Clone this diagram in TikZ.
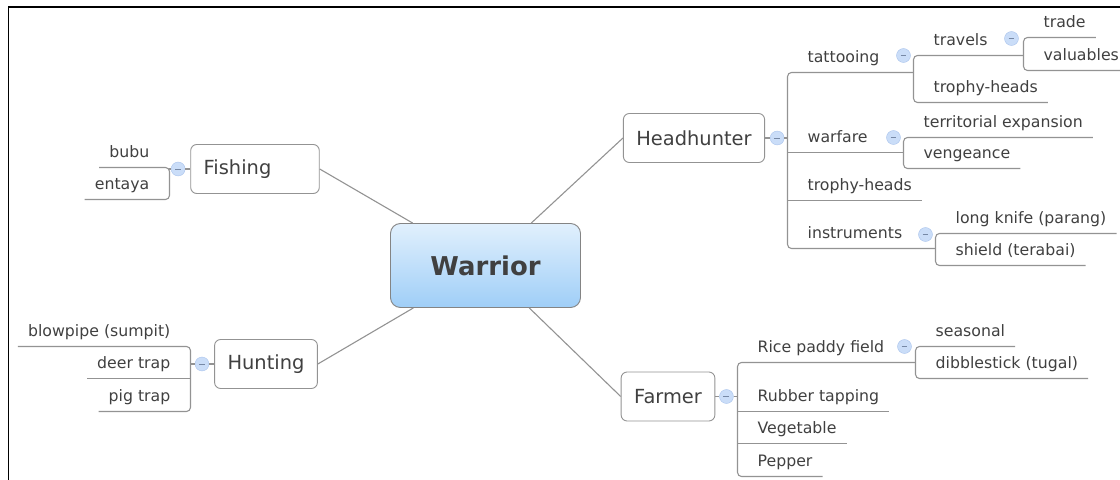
\documentclass[tikz,border=0pt]{standalone}
\usepackage{fontspec}
\setmainfont{DejaVu Sans}
\usetikzlibrary{positioning}
\usetikzlibrary{calc}
\definecolor{linegray}{HTML}{939393}
\definecolor{inkgray}{HTML}{404040}
\definecolor{topblue}{HTML}{E1F0FD}
\definecolor{botblue}{HTML}{9FCEF7}
\definecolor{knobfill}{HTML}{CADDF8}
\definecolor{knobline}{HTML}{A9C3EC}
\tikzset{
  central/.style={draw=linegray!90!black, line width=0.9pt, rounded corners=10pt, top color=topblue, bottom color=botblue,
    minimum width=190bp, minimum height=84bp, font=\fontsize{26}{30}\selectfont\bfseries, text=inkgray},
  topic/.style={draw=linegray, line width=0.9pt, rounded corners=6pt, fill=white, inner xsep=13pt, minimum height=49bp,
    font=\fontsize{19.5}{22}\selectfont, text=inkgray},
  sub/.style={inner xsep=10pt, inner ysep=0pt, text height=12pt, text depth=10pt,
    font=\fontsize{15.8}{18}\selectfont, text=inkgray},
  rsub/.style={sub, anchor=south west},
  lsub/.style={sub, anchor=south east},
  branch/.style={draw=linegray, line width=1.1bp},
  fork/.style={branch, rounded corners=4pt},
  knob/.style={circle, draw=knobline, fill=knobfill, minimum size=14pt, inner sep=0pt,
    path picture={\draw[knobline!70!black, line width=0.8pt]
      ([xshift=-3pt]path picture bounding box.center) -- ([xshift=3pt]path picture bounding box.center);}},
}

\begin{document}
\begin{tikzpicture}[x=1bp, y=-1bp]
    \useasboundingbox (0,0) rectangle (1120,480);
    \draw[line width=2pt] (8.5,480) -- (8.5,7) -- (1120,7);

    \begin{scope}[xshift=0.5bp, yshift=-0.5bp]
    % central topic and main topics
    \node[central] (war) at (485,265) {Warrior};
    \node[topic] (hh) at (693.5,137.5) {Headhunter};
    \node[topic] (fa) at (667.5,396) {Farmer};
    \node[topic, text width=103pt, align=left] (fi) at (254.5,168.5) {Fishing};
    \node[topic] (hu) at (265.5,363.5) {Hunting};

    \node[knob] (hhk) [right=5pt of hh] {};
    \node[knob] (fak) [right=4pt of fa] {};
    \node[knob] (fik) [left=5pt of fi] {};
    \node[knob] (huk) [left=5pt of hu] {};

    % Headhunter
    \node[rsub] (tat) at (797,72)  {tattooing};
    \node[rsub] (wf)  at (797,152) {warfare};
    \node[rsub] (th1) at (797,200) {trophy-heads};
    \node[rsub] (ins) at (797,248) {instruments};

    \node[knob] (tatk) at (903,55) {};
    \node[rsub] (trv) at (923,55)  {travels};
    \node[rsub] (th2) at (923,102) {trophy-heads};
    \node[knob] (trvk) at (1011,38) {};
    \node[rsub] (trd) at (1033,37) {trade};
    \node[rsub] (val) at (1033,70) {valuables};

    \node[knob] (wfk) at (893,137) {};
    \node[rsub] (ter) at (913,137) {territorial expansion};
    \node[rsub] (ven) at (913,168) {vengeance};

    \node[knob] (insk) at (925,234) {};
    \node[rsub] (lkn) at (945,233) {long knife (parang)};
    \node[rsub] (shd) at (945,265) {shield (terabai)};

    % Farmer
    \node[rsub] (ric) at (747,362) {Rice paddy field};
    \node[rsub] (rub) at (747,411) {Rubber tapping};
    \node[rsub] (veg) at (747,443) {Vegetable};
    \node[rsub] (pep) at (747,476) {Pepper};
    \node[knob] (rick) at (904,346) {};
    \node[rsub] (sea) at (925,346) {seasonal};
    \node[rsub] (dib) at (925,378) {dibblestick (tugal)};

    % Fishing and Hunting
    \node[lsub] (bub) at (159,167) {bubu};
    \node[lsub] (ent) at (159,199) {entaya};
    \node[lsub] (blo) at (180,346) {blowpipe (sumpit)};
    \node[lsub] (dee) at (180,378) {deer trap};
    \node[lsub] (pig) at (180,411) {pig trap};

    \draw[branch] (war) -- (hh.west);
    \draw[branch] (war) -- (fa.west);
    \draw[branch] (war) -- (fi.east);
    \draw[branch] (war) -- (hu.east);

    \draw[branch] (hh) -- (hhk) -- ([xshift=-10pt]tat.south west |- hh);
    \draw[fork] ([xshift=-10pt]trv.south west |- tat.south) -- ([xshift=-10pt]tat.south west)
        -- ([xshift=-10pt]ins.south west) -- ([xshift=-10pt]lkn.south west |- ins.south);
    \draw[branch] ([xshift=-10pt]wf.south west) -- ([xshift=-10pt]ter.south west |- wf.south);
    \draw[branch] ([xshift=-10pt]th1.south west) -- (th1.south east);

    \draw[fork] ([xshift=-10pt]trd.south west |- trv.south) -- ([xshift=-10pt]trv.south west)
        -- ([xshift=-10pt]th2.south west) -- (th2.south east);
    \draw[fork] (trd.south east) -- ([xshift=-10pt]trd.south west)
        -- ([xshift=-10pt]val.south west) -- (val.south east);
    \draw[fork] (ter.south east) -- ([xshift=-10pt]ter.south west)
        -- ([xshift=-10pt]ven.south west) -- (ven.south east);
    \draw[fork] (lkn.south east) -- ([xshift=-10pt]lkn.south west)
        -- ([xshift=-10pt]shd.south west) -- (shd.south east);

    \draw[branch] (fa) -- (fak) -- ([xshift=-10pt]ric.south west |- fa);
    \draw[fork] ([xshift=-10pt]sea.south west |- ric.south) -- ([xshift=-10pt]ric.south west)
        -- ([xshift=-10pt]pep.south west) -- (pep.south east);
    \draw[branch] ([xshift=-10pt]rub.south west) -- (rub.south east);
    \draw[branch] ([xshift=-10pt]veg.south west) -- (veg.south east);
    \draw[fork] (sea.south east) -- ([xshift=-10pt]sea.south west)
        -- ([xshift=-10pt]dib.south west) -- (dib.south east);

    \draw[branch] (fi) -- (fik) -- ([xshift=10pt]bub.south east |- fi);
    \draw[fork] (bub.south west) -- ([xshift=10pt]bub.south east)
        -- ([xshift=10pt]ent.south east) -- (ent.south west);
    \draw[branch] (hu) -- (huk) -- ([xshift=10pt]dee.south east |- hu);
    \draw[fork] (blo.south west) -- ([xshift=10pt]blo.south east)
        -- ([xshift=10pt]pig.south east) -- (pig.south west);
    \draw[branch] (dee.south west) -- ([xshift=10pt]dee.south east);
    \end{scope}
\end{tikzpicture}
\end{document}
